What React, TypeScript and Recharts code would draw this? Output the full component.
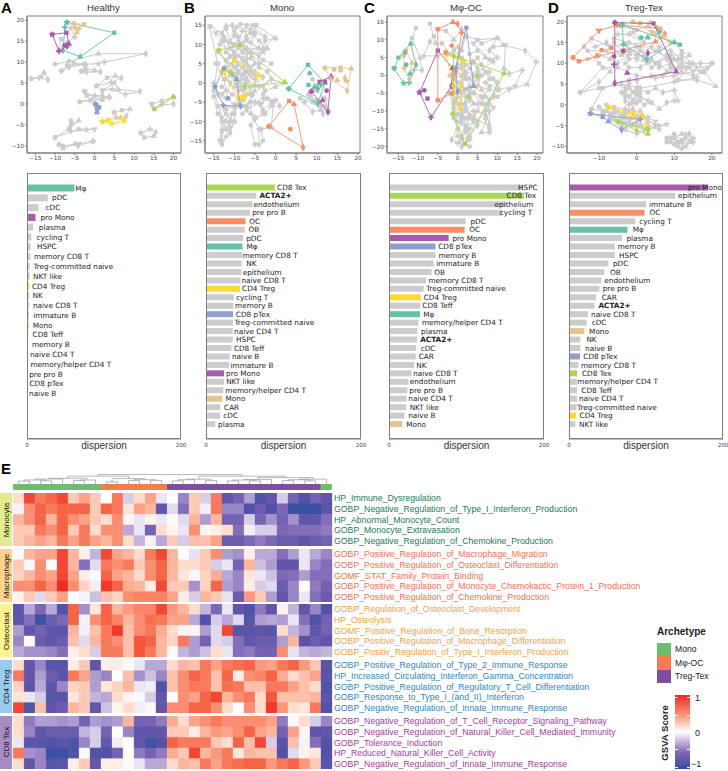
import React from 'react'
import {
  Bar,
  BarChart,
  Cell,
  LabelList,
  ReferenceArea,
  Scatter,
  ScatterChart,
  Symbols,
  XAxis,
  YAxis,
} from 'recharts'

const GREY = '#cccccc'
const SPINE = '#7f7f7f'
const TEAL = '#66c2a5'
const ORANGE = '#fc8d62'
const BLUE = '#8da0cb'
const PURPLE = '#a65ca8'
const GREEN = '#a6d854'
const YELLOW = '#ffd92f'
const TAN = '#e5c494'
const DEJAVU = 'DejaVu Sans'
const ARIAL = 'Liberation Sans'

type Pt = number[]
type Group = { color: string; ring: Pt[]; extra: Pt[] }

/* ---- panel A ---- */
const healthyGrey: Pt[][] = [
  [[-10, 9.5], [-6.5, 10.2], [1, 12], [13, 12], [2.5, 10], [1, 9.6], [-2.5, 9.5], [-7, 9.2]],
  [[-8.4, 7.9], [-5.3, 9.8], [-2.3, 9.5], [-6.5, 8.8], [-8.4, 7.9]],
  [[-3.3, 7.8], [-2.3, 8.5], [0, 8], [1.5, 7.7], [-2, 7.6], [-3.3, 7.8]],
  [[-16, 6], [-13.5, 6.5], [-12.8, 7.5], [-11.8, 5.8], [-14, 6.2], [-16, 6]],
  [[0.5, 4.3], [3.2, 6.3], [5.3, 6.7], [6.8, 6.2], [4.2, 5.2], [0.5, 4.3]],
  [[2, 3.2], [5, 5], [6, 3.5], [11.5, 3], [7.8, 2.3], [4.5, 3.5], [2, 3.2]],
  [[-2.5, 3], [-2, 2], [0, 2], [2, 2], [3.8, 1.5], [0, 1.8], [-2.5, 3]],
  [[-3.7, 0.5], [-1, 1], [2, 1], [3.7, 1.7], [-1, 0.8], [-3.7, 0.5]],
  [[5, -2], [7, -1.5], [9, -1.2], [8, -3], [5.5, -3.2], [5, -2]],
  [[14.5, 0], [17, 0.7], [20, 1.7], [20, 0], [17, -0.2], [15, -1], [14.5, 0]],
  [[-10, -8], [-6.5, -6], [-4, -4], [-6, -5], [-6, -6.5], [-2, -6.2], [0, -6], [-4, -6], [-10, -8]],
  [[-6, -4], [-5.8, -4.7], [-6.5, -6]],
  [[-9, -9.7], [-8, -10.5], [-5, -9.6], [-4.2, -10], [-0.4, -8.8], [-0.4, -9], [-4, -9.5], [-8, -10], [-9, -9.7]],
  [[11.7, -6.9], [12.6, -8], [15, -7.7], [15.5, -6.8], [14, -6], [11.8, -7]],
  [[-6.5, 14], [-8.5, 15.5], [-9, 13], [-7, 14.5], [-5, 16], [-6, 18]],
]
const healthyGroups: Group[] = [
  { color: TEAL, ring: [[-7, 19.5], [5, 17], [-3.6, 11.3], [-8, 12.8], [-7.5, 18.3]], extra: [] },
  { color: TAN, ring: [[-5.3, 19.2], [-2.6, 19], [-4.5, 17], [-5, 18.3]], extra: [[-4, 18]] },
  { color: PURPLE, ring: [[-10.7, 16.6], [-7.1, 17], [-6.5, 14.4], [-7, 13.8], [-9, 12.6]], extra: [[-7.6, 14]] },
  { color: BLUE, ring: [[0.2, 0], [1.2, -0.8], [0.6, -2], [0.5, -1]], extra: [[0.5, -0.3], [0.7, -1.3]] },
  { color: YELLOW, ring: [[2, -4.2], [3.5, -3.8], [6.6, -3.3], [7.5, -4], [4.4, -4.7]], extra: [] },
  { color: GREEN, ring: [[20, 1.7], [15.2, -1.2]], extra: [] },
]

/* ---- panel B ---- */
const monoGrey: Pt[][] = [
  [[-15.8, 14.7], [-13, 13], [-12, 14.8], [-10.5, 15], [-9, 12], [-12, 11], [-14.5, 13]],
  [[-8.5, 15.3], [-5.5, 15], [-2.5, 12], [-5, 13.3], [-8, 13.5], [-9, 11]],
  [[-12.5, 12], [-11, 9], [-8, 10], [-5, 12.8], [-6, 10.5], [-3, 8], [-7, 7.5]],
  [[-4.7, 15], [-0.2, 11.7], [-3, 9], [-7, 9], [-10, 12.5]],
  [[-14, 8], [-12, 6], [-9, 7], [-6, 6.5], [-4, 5], [-8, 4], [-11, 5]],
  [[-13.5, 10], [-10, 8], [-7, 5], [-5, 2], [-7, 0], [-10, 2], [-12, 4]],
  [[-11, 3], [-8, 2], [-5, 3], [-3, 1.5], [-6, -1], [-9, 0.5]],
  [[-8, 6], [-6, 3], [-7, 1], [-5, -0.5], [-8, -2], [-10, -1], [-9, 3]],
  [[-15, -3.5], [-14, -8], [-12, -12], [-11, -10], [-12, -7], [-10, -5.5], [-13, -3]],
  [[-13, -16], [-13, -12.5], [-12, -10], [-11, -11.5], [-10.5, -8], [-13, -10], [-13.5, -15]],
  [[-10, -8], [-9, -5.5], [-7, -6], [-5.5, -3], [-8.5, -1], [-12, 1]],
  [[-5, -16], [-6, -11], [-5, -9], [-7, -7], [-4, -5], [-3, -8], [-5, -9.5]],
  [[-5, -9], [-2.5, -8], [-1, -6], [1, -6], [0, -4.5], [-2, -4], [-3.5, -5.5]],
  [[-3, -15], [-3.5, -12], [-1, -11.5], [-0.5, -5], [-3, -4]],
  [[-2.5, -2], [0, -1], [2, 0], [-1, 1], [-4, -1]],
  [[8, -3], [10, -4.5], [12, -6], [11.5, -8], [9.5, -5], [8.5, -3.5]],
  [[9, 1], [10, -2], [12, -4], [13, -7.5], [11, -6]],
  [[-14.5, 5], [-12.5, 1], [-12, -2], [-14, -3], [-15, 0]],
  [[-10, 13.5], [-11, 10.5], [-8.5, 10], [-7, 12], [-6, 14], [-9.5, 14.5]],
  [[-13, -1], [-10.5, -3], [-8, -4.5], [-10, -6.5], [-12.5, -6]],
  [[-1, 5], [-3, 6], [-6, 8], [-2.5, 11], [0, 11.5]],
  [[-16, 14.7], [-14, 5], [-15, -2], [-13, -9], [-13, -15]],
  [[-12, 14], [-10, 8], [-9, 3], [-9, -2], [-10, -10], [-12, -14]],
  [[-7, 15], [-8, 8], [-7.5, 3], [-6, -3], [-6, -8], [-4, -12], [-4, -16]],
  [[-13, 11], [-11, 7], [-13, 3], [-11, 0], [-12, -4]],
  [[-10, 10], [-7, 11], [-4, 9], [-7, 6], [-10, 4], [-8, 1], [-6, 2]],
  [[-9, 9], [-6, 8], [-5, 5], [-7, 3], [-9, 5], [-10, 7]],
  [[-12, 8], [-10, 6], [-11, 2], [-9, -1], [-7, -3], [-5, -2]],
  [[-4, 4], [-2, 3], [-1, 1], [-3, -1], [-5, 1], [-6, 4]],
  [[-6, 13], [-4, 11], [-2, 9], [-4, 7], [-7, 9]],
  [[-14, -6], [-12, -8], [-10, -10], [-11, -13], [-12, -12]],
  [[6, -4], [9, -5], [11, -7], [9, -7.5], [7, -5]],
  [[-3, -3], [-1, -5], [-3, -7], [-5, -5]],
  [[-8, -8], [-6, -5], [-8, -6]],
]
const monoGroups: Group[] = [
  { color: GREEN, ring: [[-13.7, 8.5], [-8.7, 9.8], [2.3, 0.2], [-7.5, -1], [-10.5, 2.5]], extra: [] },
  { color: YELLOW, ring: [[-12.5, 2.7], [-10, 5.8], [-4, 2], [-7.5, -4], [-9, -4]], extra: [[-8, -3.5]] },
  { color: BLUE, ring: [[-14.7, -1], [-12.5, 3.8], [-9.5, 1], [-8.5, -6], [-12.7, -5.8]], extra: [[-11.5, -4]] },
  { color: TEAL, ring: [[3.2, -1.5], [7.9, 4.7], [12, 0], [10.3, -5.3]], extra: [[8.3, 2.5], [8, -0.5], [9.5, -1], [10.3, -1.5], [11, -0.5]] },
  { color: PURPLE, ring: [[8.7, -2.2], [10.7, 0.3], [13.5, 1.7], [12.7, -7.5]], extra: [[12.4, -2], [12, 0.3], [11.4, -4.5]] },
  { color: TAN, ring: [[12, 3.9], [15.8, 4], [18.4, 3.7], [17.4, -2], [13.5, 1]], extra: [[14.2, 3.5], [15.8, 3.3], [15, 0.7], [16.8, 1.3], [17.2, 0.5]] },
  { color: ORANGE, ring: [[-1.6, -11.3], [3.3, -4.7], [4.5, -5.5], [6.7, -16.8]], extra: [[3.6, -12]] },
]

/* ---- panel C ---- */
const mphiGrey: Pt[][] = [
  [[-10.5, 13.3], [-11.5, 10.5], [-9.5, 5], [-9, 1.5], [-11, 1.5]],
  [[-7, 14.5], [-6, 11], [-5.5, 9], [-7, 9.5], [-8.5, 5.5], [-5, 5.5]],
  [[-5, 13], [-3, 12.5], [-1, 10], [1, 13], [2, 11], [1, 7]],
  [[2, 11], [5, 10], [10, 10.5], [8, 7], [10, 5], [8, 4.5], [4, 9]],
  [[6, 9], [10, 10.5], [11.5, 8.5], [17, 7], [19.8, 3.8], [17.5, -2.5], [13, -4], [10, -6], [8, -3]],
  [[9, 8], [12, 8.5], [11.7, 2], [13, 0.5], [16.3, 1.5], [14.5, -3], [10, -4]],
  [[0, 5], [2, 3], [3.5, 3.5], [5, 2], [8, 1], [4, -2]],
  [[-1, 2], [1, 0], [3, -1], [5, -3], [8, -4], [6, -6], [3, -4]],
  [[-1, -3], [1, -5], [1, -8], [3, -7], [5, -8], [7, -6], [9, -9]],
  [[0, -11], [3, -12], [5, -10], [7, -11], [8, -8], [8, -15]],
  [[-1, -5], [-1, -12], [0, -15], [-1.5, -18], [0, -19], [2, -19], [3, -15], [2, -12]],
  [[3, -20], [1, -18], [3, -17], [5, -14], [4, -10]],
  [[-1, -1], [1, -3], [-0.5, -7], [2, -9], [0, -6]],
  [[5, 5], [7, 1], [9, -1], [10.5, -4], [7, -2]],
  [[3, 6], [5, 7], [7, 5], [9, 4], [5, 1]],
  [[-1, 0], [2, -1], [1, 2], [4, 0], [0, -2]],
  [[4, -5], [6, -8], [4, -12], [8, -14], [6, -6]],
  [[-2, -5], [0, -13], [2, -15], [4, -13], [1, -11]],
  [[-1, 7], [1, 5], [2, 1], [1, -2], [2, -6], [1, -10], [2, -14], [1, -17]],
  [[0, 3], [2, 0], [3, -3], [2, -8], [3, -11], [2, -16]],
  [[-1, -8], [1, -12], [0, -17], [1, -20], [3, -18]],
  [[3, 2], [5, -1], [6, -4], [8, -7], [7, -10], [5, -13]],
  [[6, 3], [8, -1], [10, -2], [9, -6], [7, -8]],
  [[4, 4], [6, 0], [4, -5], [2, -4]],
  [[0, -8], [2, -10], [4, -8], [3, -5]],
  [[-2, 0], [0, -4], [-1, -9], [1, -13]],
  [[7, -12], [8, -16], [6, -16], [8, -10]],
  [[-4, 9], [-2, 6], [0, 8], [1, 3]],
]
const mphiGroups: Group[] = [
  { color: TEAL, ring: [[-16, 2], [-14.9, 5], [-11.8, 8.9], [-10.5, 3], [-12.2, -2], [-13.6, -2.2]], extra: [[-13, 3], [-13.3, 6.5], [-12, 0.5]] },
  { color: TAN, ring: [[-13.6, 5.7], [-13, 7], [-11.5, 3.5], [-12.2, -1], [-13.5, 2]], extra: [] },
  { color: PURPLE, ring: [[-9.6, -4.8], [-5, 7], [-1.3, 2], [-1.6, -3], [-6.7, -11.8]], extra: [[-8.4, -4.2], [-7.6, -6.5]] },
  { color: ORANGE, ring: [[-5, -7], [-5, 13], [-1.2, 15], [0, 14.5], [1, 12], [-0.5, 1], [-1.5, -5]], extra: [[-1.5, 8.4], [-3, 6.5]] },
  { color: BLUE, ring: [[-0.5, 2], [2.2, 13.4], [4, -3], [0, -4.5]], extra: [] },
  { color: YELLOW, ring: [[-3, 6], [1.5, 4], [1, -3], [0.5, -9], [-1, -3]], extra: [] },
  { color: GREEN, ring: [[-1.2, -10.8], [1.8, -19.3], [11.7, 0.6], [-1, 5.5]], extra: [[5, 0], [2.8, -6]] },
]

/* ---- panel D ---- */
const tregGrey: Pt[][] = [
  [[-12, 16], [-7, 14], [-3, 14.5], [2, 15], [-2, 17], [-5, 17]],
  [[-13, 13], [-8, 13], [-4, 12], [-8, 15], [-11, 14]],
  [[-4, 19], [0, 18], [3, 19], [5, 17], [1, 16], [-1, 17.5]],
  [[-6, 15], [-2, 11], [2, 12], [6, 13], [8, 11], [3, 10], [0, 11]],
  [[5, 13], [9, 11], [12, 10], [17, 10], [20, 10], [17, 8], [13, 9], [9, 9]],
  [[20, 10], [18, 8], [21, 4.5], [16, 6], [11, 6], [14, 9]],
  [[-15, 3], [-10, 4], [-4, 5], [1, 4], [10, 5.5], [16, 6.5]],
  [[-15, 3], [-9, 9], [-5, 9], [0, 7], [5, 6.5], [10, 7], [15, 8]],
  [[-14, 14], [-10, 10], [-7, 8], [-10, 5.5], [-15, 3]],
  [[-12, -1], [-9, 4], [-6, 5], [-3, 4], [0, 2.5], [3, 1]],
  [[-2, 6], [-3, 3], [-1, 1], [1, 3], [0, 6], [1, 1], [-2, 2]],
  [[0, 4], [3, 3], [5, 4], [7, 3], [10, 3.5], [11, 1]],
  [[2, 0], [4, 0.5], [6, -1], [8, 0.5], [10, 1]],
  [[-12, -1], [-9, -1.5], [-6, -2], [-3, -3], [0, -3], [2, -3], [5, -5], [3, -6]],
  [[-10, -0.5], [-7, -2], [-4, -2.5], [-2, -1.5], [-4, -4], [-7, -3.5]],
  [[-4, -4.5], [-2, -4], [1, -5], [3, -4], [6, -5], [8, -4.7], [3, -6]],
  [[-8, -1.5], [-6, -0.5], [-3, -1], [-1, -2], [-2, -3.5], [-6, -3]],
  [[8, -8], [10, -8], [12, -7], [14, -7], [15, -8], [13, -10], [11, -9], [9, -9]],
  [[10, -7], [12, -8.5], [14, -9], [15, -8.5], [12, -10.5]],
  [[10, 15], [12, 13], [14, 12], [12, 11], [9, 13], [6, 14]],
  [[4, 9], [6, 10], [8, 8], [11, 9], [7, 7], [4, 7]],
  [[-2, 13], [1, 13], [4, 11], [1, 9], [-2, 9], [-3, 10]],
  [[-8, 0], [-5, -1.5], [-3, -2], [-1, -1], [1, -3], [3, -3], [5, -4]],
  [[-9, -2], [-6, -3.5], [-3, -4.5], [0, -4.5], [3, -5], [6, -6]],
  [[-7, -3], [-4, -5.5], [-1, -5], [2, -6], [0, -7], [-3, -6]],
  [[-6, -1], [-4, -3], [-1, -3], [1, -1.5], [-3, -1.5]],
  [[-2, 4], [0, 3], [-1, 0.5], [-3, 1], [-4, 3], [-2, 5]],
  [[-3, 2], [-1, 3], [1, 2], [0, 0.5], [-2, 0]],
  [[2, 11], [5, 10], [8, 12], [11, 11], [14, 10], [16, 9], [19, 9]],
  [[6, 9], [9, 10], [12, 8], [15, 7], [18, 8]],
  [[9, 12], [12, 12], [15, 10], [12, 9], [10, 11]],
  [[-13, 11], [-10, 12], [-7, 11], [-5, 10], [-2, 12], [0, 14]],
  [[-6, 16], [-2, 15], [1, 14], [4, 14], [0, 12], [-3, 13]],
  [[10, -8], [12, -9], [11, -10], [13, -8], [15, -9], [13, -7]],
  [[8, -9], [10, -9.5], [12, -9], [9, -8]],
]
const tregGroups: Group[] = [
  { color: ORANGE, ring: [[-16.9, 11.4], [-15.3, 10.5], [5, 15.2], [7.5, 17], [5.5, 18.5], [-5, 19.2], [-10, 17.9]], extra: [[-9.3, 13.2], [-6.7, 13.7], [-10.6, 11.8], [-3.5, 12.9]] },
  { color: TAN, ring: [[-1, 20], [1, 19.7], [3.6, 19.8], [6.5, 18.2], [9, 15], [7, 16.5], [4, 17.5]], extra: [] },
  { color: TEAL, ring: [[-3.8, 19.3], [11.5, 14.5], [10, 15.1], [2.7, 10.9], [-3.5, 14.6]], extra: [[1.2, 16.2], [6, 17.6], [3, 16.2]] },
  { color: PURPLE, ring: [[-5.8, 19.8], [4.5, 19.6], [10.5, 8], [-5.8, 5.2]], extra: [[-6, 11.7], [-3.6, 13], [-2.5, 7.7], [3, 12.5], [-6, 9.7]] },
  { color: YELLOW, ring: [[-7.5, -0.5], [-1, -2], [1.5, -2.5], [3, -5.5], [-1, -3]], extra: [] },
  { color: BLUE, ring: [[-12.3, -2.1], [-9, -2.9], [-7.5, -4], [-4, -6], [1, -3.5]], extra: [] },
  { color: GREEN, ring: [[-5, -4], [3, -5.8], [3, -7], [0, -6.2]], extra: [] },
]

/* ---- dispersion bars ---- */
const healthyNames = ['Mφ', 'pDC', 'cDC', 'pro Mono', 'plasma', 'cycling T', 'HSPC', 'memory CD8 T', 'Treg-committed naive', 'NKT like', 'CD4 Treg', 'NK', 'naive CD8 T', 'immature B', 'Mono', 'CD8 Teff', 'memory B', 'naive CD4 T', 'memory/helper CD4 T', 'pre pro B', 'CD8 pTex', 'naive B']
const healthyValues = [61.5, 27, 15, 11, 8, 5.6, 4.8, 4.3, 3.5, 3.5, 3, 3, 2.6, 2.6, 2.2, 1.7, 1.3, 1.3, 1, 0.6, 0.6, 0.3]
const healthyGaps = [1, 4.3, 7, 5, 5.7, 5.3, 6.3, 3.7, 3.7, 3.3, 2.7, 3.3, 4, 4.3, 4, 4.3, 4, 2, 2.7, 1.7, 2, 1.8]

const monoNames = ['CD8 Tex', 'ACTA2+', 'endothelium', 'pre pro B', 'OC', 'OB', 'pDC', 'Mφ', 'memory CD8 T', 'NK', 'epithelium', 'naive CD8 T', 'CD4 Treg', 'cycling T', 'memory B', 'CD8 pTex', 'Treg-committed naive', 'naive CD4 T', 'HSPC', 'CD8 Teff', 'naive B', 'immature B', 'pro Mono', 'NKT like', 'memory/helper CD4 T', 'Mono', 'CAR', 'cDC', 'plasma']
const monoValues = [88.8, 65, 60, 57, 51, 50, 48, 47, 47, 46, 45.7, 44.4, 44, 36, 35.3, 35, 35, 34.5, 34.5, 33, 30.6, 30, 23.3, 23, 22.4, 21, 18.5, 18, 12]
const monoGaps = [2.3, 3, 1, 2, 3.7, 3.7, 3, 4, 0.3, 4.7, 1.3, 1, 2, 2, 1.7, 2.7, 1.3, 1.3, 3.3, 2.3, 2.3, 1.3, 2, 2.3, 2, 3.3, 3.7, 3.3, 2.7]

const mphiNames = ['HSPC', 'CD8 Tex', 'epithelium', 'cycling T', 'pDC', 'OC', 'pro Mono', 'CD8 pTex', 'memory B', 'immature B', 'OB', 'memory CD8 T', 'Treg-committed naive', 'CD4 Treg', 'CD8 Teff', 'Mφ', 'memory/helper CD4 T', 'plasma', 'ACTA2+', 'cDC', 'CAR', 'NK', 'naive CD8 T', 'endothelium', 'pre pro B', 'naive CD4 T', 'NKT like', 'naive B', 'Mono']
const mphiValues = [173, 174, 150, 146, 99, 97.6, 77, 60, 60, 57.6, 55, 48, 44.7, 41, 40.4, 40, 37.8, 36.6, 36, 34.8, 34.4, 32.7, 29, 25, 23.7, 22.8, 22.4, 20, 17]
const mphiGaps = [-5, -17.3, -10.7, -2.3, 4.7, 4.7, 3.7, 2.7, 3, 2.7, 2.7, 2.3, 2.3, 3, 2, 3.3, 3.7, 3.7, 3.3, 4.7, 3, 2, 1.7, 1.3, 2, 1.7, 3.3, 3.7, 4]

const tregNames = ['pro Mono', 'epithelium', 'immature B', 'OC', 'cycling T', 'Mφ', 'plasma', 'memory B', 'HSPC', 'pDC', 'OB', 'endothelium', 'pre pro B', 'CAR', 'ACTA2+', 'naive CD8 T', 'cDC', 'Mono', 'NK', 'naive B', 'CD8 pTex', 'memory CD8 T', 'CD8 Tex', 'memory/helper CD4 T', 'CD8 Teff', 'naive CD4 T', 'Treg-committed naive', 'CD4 Treg', 'NKT like']
const tregValues = [180, 138, 100, 98, 86, 76, 69, 59.4, 59.4, 51, 46, 42, 39.5, 35, 33, 24.7, 23, 20, 14.8, 14.8, 14.3, 12, 10.4, 10.4, 10.4, 10.4, 10, 9.5, 8.2]
const tregGaps = [-19.7, 2.7, 3, 5, 4, 5.3, 4.3, 3, 4.3, 4.7, 5.7, 3, 3.3, 5.7, 4, 3, 5, 4.7, 6, 4.7, 3.3, 2.7, 5, 0.3, 4.3, 2, 0.3, 3.3, 3.7]

const barColors: Record<string, string> = {
  'Mφ': TEAL, OC: ORANGE, 'pro Mono': PURPLE, 'CD8 pTex': BLUE, 'CD8 Tex': GREEN, 'CD4 Treg': YELLOW, Mono: TAN,
}

/* ---- heatmap, GSVA score x10 ---- */
const monocyteTerms = ['HP_Immune_Dysregulation', 'GOBP_Negative_Regulation_of_Type_I_Interferon_Production', 'HP_Abnormal_Monocyte_Count', 'GOBP_Monocyte_Extravasation', 'GOBP_Negative_Regulation_of_Chemokine_Production']
const monocyteScores = [
  [2, 9, 7, 8, 9, 3, 5, 3, 0, 7, -2, 2, 5, -1, 0, -5, 3, -2, 7, -8, -7, -4, -9, -8, -2, -7, -9, -7, -8],
  [-0.5, 6, 8, 7, 8, 8, 8, 3, 8, 7, 1.5, 5, 4, -8, -1.5, -6, 3, -0.7, 7, -5, -5, -9, -7.5, -9, -6.5, -10, -10, -10, -8.5],
  [4, 6, 8, 4, 8, 6, 5, 3, 2, 6, 0.5, -1, 0.7, -1, 0.3, -1.5, 4, -4, 4, -7, -7, -2, -7, -4.5, -7, -4.5, -8, -8, -6],
  [3, 3, 7, 6, 8, 3, 7, 2, 6, 6, -3.5, -1, -7, 2, 0.5, -1, 6, 0.5, 1, 2, -6, -0.7, -2, -2, -6.5, -6, -6, -6, -5.5],
  [3, 4, 5, 4, 7, 5, 7, 5, 4, 6, 2, -3, -0.5, -3.5, 3, -2, 3.5, 3.5, 5, -7.5, -7.5, -6.5, -5.5, -6.5, -7.5, -7.5, -8, -7.5, -7],
]
const macrophageTerms = ['GOBP_Positive_Regulation_of_Macrophage_Migration', 'GOBP_Positive_Regulation_of_Osteoclast_Differentiation', 'GOMF_STAT_Family_Protein_Binding', 'GOBP_Positive_Regulation_of_Monocyte_Chemokactic_Protein_1_Production', 'GOBP_Positive_Regulation_of_Chemokine_Production']
const macrophageScores = [
  [0, 4, 5, 5, 9, 4, 1, -3, 9, 5, 4, 2, 7, 9, 4, 0, -1.2, 3, 6, -4, -4.5, 1, -3.5, -3.5, -6, -4, -1, -3.5, -5],
  [3, -0.3, 6, -0.1, 9, 4, -6, -1.5, 7, 6, 7, 3, 6, 8, 4, 2, 2, 3, -2, -1, -7, 4, -2.5, -4, -8, -8, -1, -5, -6],
  [2.5, 4, 6, 5, 9, 5, 1, -0.3, 8, 5, 4, 2, 6, 8, 4, 1.5, -0.3, 2.5, 4.5, -3.5, -5, 1.5, -1, -2.5, -6.5, -6, -4, -6, -6],
  [6, 6, 8, 6, 10, 6, 2.5, -0.7, 9.5, 8, 4.5, 4, 1, 9, 3, 3, -4.5, 2.5, 8, -4, -5, 1, -2, -1.5, -7.5, -5, 0.2, -5.5, -7],
  [0.7, 3, -1.5, 3, 5, 0, -0.5, -2.5, 3.5, 2.5, 6, 6.5, 6.5, 6.5, 5, 1, -2, 4, 3, -1.2, -7.5, 5.5, 3, -4, -8, -5, -1, -6, -7.5],
]
const osteoclastTerms = ['GOBP_Regulation_of_Osteoclast_Development', 'HP_Osteolysis', 'GOMF_Positive_Regulation_of_Bone_Resorption', 'GOBP_Positive_Regulation_of_Macrophage_Differentiation', 'GOBP_Positiv_Regulation_of_Type_I_Interferon_Production']
const osteoclastScores = [
  [-8.5, -3.5, -6.5, -3.5, -9, 8, -4.5, 1.5, 8, 4, 5.5, 6.5, 6.5, 9, 5.5, 4, 2, -3, -6.5, -1, -8, -9, -5.5, -8, 0.8, -3, -8, -5, -9],
  [-8, -6, -10, -7.5, -6.5, 8, -0.5, 6, 8, 6.5, 4, 6, 7.5, 7, 5, 5, -3.5, -9, -2, -3.5, -1.5, -8.5, -4, -3.5, -4, -1, -6, -9, -7],
  [-4, -8, -7, -8, -8.5, 4, -0.7, 3.5, 7, 9.5, 3.5, 6, 7, 4.5, 2, -0.5, 0.5, -4, -1.5, 9, -8.5, -8.5, -8, -8.5, 2, -3, -4.5, -8, -7],
  [-5, -0.1, -7.5, -8, -7.5, 3.5, -1.5, 4, 7, 6, 3.5, 8.5, 8, 4, 2.5, 7, -4, -7, -1.5, -2, -6, -8, -7.5, -7.5, -4, 4, -8.5, -7.5, -8],
  [-3.5, -4.5, -4.5, -5, -6, 1, 2, -2, 7, 7, 3.5, 8.5, 7, 4, 0.3, -3, -4, -2.5, 2, -1, -6, -5.5, -7, -7, 6, -1.2, -3, -3.5, -3],
]
const cd4Terms = ['GOBP_Positive_Regulation_of_Type_2_Immune_Response', 'HP_Increased_Circulating_Interferon_Gamma_Concentration', 'GOBP_Positive_Regulation_of_Regulatory_T_Cell_Differentiation', 'GOBP_Response_to_Type_I_(and_II)_Interferon', 'GOBP_Negative_Regulation_of_Innate_Immune_Response']
const cd4Scores = [
  [2, -8, -5, -8.5, -8.5, 1, 3, -8, 1, 1, -0.2, -1, -3.5, -3.5, 2, 4, 3.5, 7, 5, 7, 7.5, 8, 5.5, 5, 7, 8, 5.5, 3, -8.5],
  [7, -8, -4, -7.5, -8.5, 7, 5, -4, -5, 0, 3.5, -4.5, -2.5, -5, 3.5, 6, 8, 7, 3.5, 8, 1, 6, 6.5, 8, 4.5, 2, 3.5, 5, -8.5],
  [2.5, -8.5, -3.5, -8, -5, 2.5, 3, -4, 1.5, 2.5, 4, -1, -0.7, -9, 3.5, 6, 7, 7, 3.5, 7.5, 7, 3.5, 3.5, 7, 7, 5, 3.5, 2, -9],
  [1.5, -1, -2, -8.5, -8.5, 1.5, 3, -3, -3.5, 2, 0.7, -0.3, -2, -8, 0, 6, 5, 8, 9, 4, 6, 7, 2, 8.5, 3.5, 3.5, 3.5, 4, -8.5],
  [9, -9, 3.5, -8, -7.5, 4, 3, -8, -2.5, 0.7, 2, -0.7, 0.5, -8, 6, 6, 8, 8, 6, 2, 0, 6, 2, 9.5, 5.5, 2, 1.5, 7, -9],
]
const cd8Terms = ['GOBP_Negative_Regulation_of_T_Cell_Receptor_Signaling_Pathway', 'GOBP_Negative_Regulation_of_Natural_Killer_Cell_Mediated_Immunity', 'GOBP_Tolerance_Induction', 'HP_Reduced_Natural_Killer_Cell_Activity', 'GOBP_Negative_Regulation_of_Innate_Immune_Response']
const cd8Scores = [
  [2, -5.5, -4, -4, -4.5, -4, -7, -4, -4.5, -4, 4, -7, -7, -5.5, 4.5, 2, 5, 6, 7, 6, 6, 6, 6, 5, -5.5, -0.3, 2, -2, -5],
  [2, -5, -8, -7.5, -7.5, -7.5, -3, -2, -7, 0, -5, -8, -8, -8, 3, 3, 1, 4, 5.5, 5, 6, 8, 5, 4, -7, 5, 0.5, -8, -8],
  [-1, -8.5, -8.5, -9, -8.5, -9, -5, -2, -8, -0.7, 0.2, -8, -9.5, -9, 8, 7, 7, 7, 3, 2, 8, 3.5, 9, -2, -8.5, 3.5, -0.5, -6, -9],
  [7, -4.5, -5, -10, -10, -9, -0.3, -9, -9, -7, 0.2, -5.5, -7, -5.5, 4.5, 3, 9, 4, 5.5, 7, 1.5, 4, 3.5, 3.5, -9, -1.5, 0.8, 1.5, -9],
  [2, -8, -5, -8.5, -8.5, 1, 3, -8, 1, 1, -0.2, -1, -3.5, -3.5, 2, 4, 3.5, 7, 5, 7, 7.5, 8, 8, 5.5, 7, 8, 5.5, 3, -8.5],
]

/* archetype strip runs over the 29 columns */
const archetypeRuns = [8, 6, 14, 1]
const archetypeColors = ['#6dbe6a', '#f47c4e', '#7d4f9e', '#6dbe6a']
/* dendrogram merges: left x, right x, join height, left foot, right foot (column units) */
const merges = [
  [0.5, 1.5, 2, 0, 0], [2.5, 3.5, 2.2, 0, 0], [1, 3, 2.8, 2, 2.2], [2, 4.5, 3.5, 2.8, 0],
  [5.5, 6.5, 2.5, 0, 0], [6, 7.5, 2.8, 2.5, 0], [3.25, 6.75, 4, 3.5, 2.8],
  [8.5, 9.5, 1.5, 0, 0], [10.5, 11.5, 2.5, 0, 0], [12.5, 13.5, 2.5, 0, 0], [11, 13, 3, 2.5, 2.5], [9, 12, 3.8, 1.5, 3],
  [5, 10.5, 5.5, 4, 3.8],
  [14.5, 15.5, 2.2, 0, 0], [15, 16.5, 3, 2.2, 0], [17.5, 18.5, 2.5, 0, 0], [15.75, 18, 3.4, 3, 2.5],
  [19.5, 20.5, 2.2, 0, 0], [21.5, 22.5, 2.2, 0, 0], [20, 22, 2.8, 2.2, 2.2], [21, 23.5, 3.2, 2.8, 0],
  [24.5, 25.5, 2.4, 0, 0], [26.5, 27.5, 2.2, 0, 0], [25, 27, 3, 2.4, 2.2], [26, 28.5, 3.4, 3, 0],
  [22.25, 27.25, 4.5, 3.2, 3.4], [16.9, 24.75, 5.5, 3.4, 4.5], [7.75, 20.8, 6.6, 5.5, 5.5],
]

const COLS = 29
const MARKS = ['circle', 'square', 'triangle', 'diamond', 'cross', 'star', 'wye'] as const

function scoreColor(v: number) {
  const stops: [number, number[]][] = [
    [-10, [62, 80, 162]], [-8, [98, 86, 170]], [-6, [133, 110, 185]], [-3, [195, 180, 220]], [0, [255, 255, 255]],
    [2, [255, 220, 206]], [4, [252, 182, 158]], [6, [250, 142, 114]], [8, [246, 100, 70]], [10, [238, 42, 36]],
  ]
  for (let i = 1; i < stops.length; i++) {
    if (v <= stops[i][0]) {
      const [a, ca] = stops[i - 1]
      const [b, cb] = stops[i]
      const t = (v - a) / (b - a)
      return `rgb(${ca.map((c, k) => Math.round(c + (cb[k] - c) * t)).join(',')})`
    }
  }
  return 'rgb(238,42,36)'
}

const Marker = ({ cx, cy, payload, color }: any) => (
  <Symbols cx={cx} cy={cy} type={MARKS[payload.m % MARKS.length]} size={18} fill={color} />
)

function toRows(points: Pt[]) {
  return points.map(([x, y], m) => ({ x, y, m }))
}

function ScatterPanel(props: {
  left: number
  width: number
  xDomain: number[]
  yDomain: number[]
  xTicks: number[]
  yTicks: number[]
  grey: Pt[][]
  groups: Group[]
}) {
  const { left, width, xDomain, yDomain, xTicks, yTicks, grey, groups } = props
  const tick = { fill: '#444', fontSize: 5.8, fontFamily: DEJAVU }
  const minus = (v: number) => String(v).replace('-', '−')
  return (
    <div style={{ position: 'absolute', left: left - 24, top: 12 }}>
      <ScatterChart width={width + 30} height={155} margin={{ top: 4, right: 6, bottom: 0, left: 0 }}>
        <XAxis type="number" dataKey="x" domain={xDomain} ticks={xTicks} tick={tick} tickFormatter={minus} height={14} tickSize={2} tickMargin={1} stroke={SPINE} allowDataOverflow interval={0} />
        <YAxis type="number" dataKey="y" domain={yDomain} ticks={yTicks} tick={tick} tickFormatter={minus} width={24} tickSize={2} tickMargin={1} stroke={SPINE} allowDataOverflow interval={0} />
        {grey.map((line, i) => (
          <Scatter key={i} data={toRows(line)} line={{ stroke: GREY, strokeWidth: 1 }} shape={(p: any) => <Marker {...p} color={GREY} />} isAnimationActive={false} />
        ))}
        {groups.map((g, i) => (
          <Scatter key={'ring' + i} data={toRows([...g.ring, g.ring[0]])} line={{ stroke: g.color, strokeWidth: 0.9 }} shape={(p: any) => <Marker {...p} color={g.color} />} isAnimationActive={false} />
        ))}
        {groups.map((g, i) => (
          <Scatter key={'extra' + i} data={toRows(g.extra)} shape={(p: any) => <Marker {...p} color={g.color} />} isAnimationActive={false} />
        ))}
        <ReferenceArea x1={xDomain[0]} x2={xDomain[1]} y1={yDomain[0]} y2={yDomain[1]} fill="none" stroke={SPINE} strokeWidth={1} ifOverflow="visible" />
      </ScatterChart>
    </div>
  )
}

function BarPanel({ left, width, names, values, gaps, padBottom }: { left: number; width: number; names: string[]; values: number[]; gaps: number[]; padBottom: number }) {
  const data = names.map((name, i) => ({ name, value: values[i] }))
  const renderLabel = ({ x, y, width: w, height: h, index, value }: any) => (
    <text x={x + w + gaps[index]} y={y + h / 2} dy="0.36em" fontSize={7.3} fontFamily={DEJAVU} fill="#222" fontWeight={value === 'ACTA2+' ? 700 : 400}>
      {value}
    </text>
  )
  return (
    <>
      <div style={{ position: 'absolute', left: left - 6, top: 172 }}>
        <BarChart layout="vertical" width={width + 18} height={282} data={data} margin={{ top: 1, right: 12, bottom: 0, left: 6 }} barCategoryGap="12%">
          <XAxis type="number" dataKey="value" domain={[0, 200]} ticks={[0, 200]} interval={0} height={15} tick={{ fill: '#444', fontSize: 5.6, fontFamily: DEJAVU }} tickSize={0} tickMargin={4} stroke={SPINE}
            label={{ value: 'dispersion', position: 'insideBottom', offset: 5, fontSize: 10, fontFamily: ARIAL, fill: '#333' }} />
          <YAxis type="category" dataKey="name" width={0} hide padding={{ top: 10.4, bottom: padBottom }} />
          <Bar dataKey="value" isAnimationActive={false}>
            {data.map((d) => (
              <Cell key={d.name} fill={barColors[d.name] ?? GREY} />
            ))}
            <LabelList dataKey="name" content={renderLabel} />
          </Bar>
        </BarChart>
      </div>
      <div style={{ position: 'absolute', left, top: 173, width, height: 266, boxSizing: 'border-box', border: `1px solid ${SPINE}`, pointerEvents: 'none' }} />
    </>
  )
}

function HeatBlock({ top, terms, scores, color, band, title }: { top: number; terms: string[]; scores: number[][]; color: string; band: string; title: string }) {
  const data = terms.map((name, r) => {
    const row: Record<string, string | number> = { name, key: r }
    for (let c = 0; c < COLS; c++) row['c' + c] = 1
    return row
  })
  const height = 53.2
  return (
    <>
      <div style={{ position: 'absolute', left: 0, top, width: 11.5, height, background: band }}>
        <div style={{ position: 'absolute', left: 5.75, top: height / 2, transform: 'translate(-50%,-50%) rotate(-90deg)', fontFamily: ARIAL, fontSize: 8, color: '#111', whiteSpace: 'nowrap' }}>{title}</div>
      </div>
      <div style={{ position: 'absolute', left: 13, top }}>
        <BarChart layout="vertical" width={639} height={height} data={data} margin={{ top: 0, right: 0, bottom: 0, left: 0 }} barCategoryGap={0}>
          <XAxis type="number" hide domain={[0, COLS]} />
          <YAxis type="category" dataKey="name" orientation="right" width={320} interval={0} tickLine={false} axisLine={false} tickSize={0} tickMargin={2}
            tick={{ fill: color, fontSize: 8.75, fontFamily: ARIAL, textAnchor: 'start' }} />
          {Array.from({ length: COLS }, (_, c) => (
            <Bar key={c} dataKey={'c' + c} stackId="heat" isAnimationActive={false}>
              {scores.map((row, r) => (
                <Cell key={r} fill={scoreColor(row[c])} stroke={scoreColor(row[c])} strokeWidth={0.3} />
              ))}
            </Bar>
          ))}
        </BarChart>
      </div>
    </>
  )
}

function Dendrogram() {
  return (
    <div style={{ position: 'absolute', left: 13, top: 474 }}>
      <ScatterChart width={319} height={10} margin={{ top: 0, right: 0, bottom: 0, left: 0 }}>
        <XAxis type="number" dataKey="x" hide domain={[0, COLS]} />
        <YAxis type="number" dataKey="y" hide domain={[0, 7]} />
        {merges.map(([a, b, h, fa, fb], i) => (
          <Scatter key={i} data={[{ x: a, y: fa }, { x: a, y: h }, { x: b, y: h }, { x: b, y: fb }]} line={{ stroke: '#8a8a8a', strokeWidth: 0.6 }} shape={() => <g />} isAnimationActive={false} />
        ))}
      </ScatterChart>
    </div>
  )
}

function ArchetypeStrip() {
  const row: Record<string, number | string> = { name: 'archetype' }
  archetypeRuns.forEach((n, i) => { row['a' + i] = n })
  return (
    <div style={{ position: 'absolute', left: 13, top: 483.7 }}>
      <BarChart layout="vertical" width={319} height={6.6} data={[row]} margin={{ top: 0, right: 0, bottom: 0, left: 0 }} barCategoryGap={0}>
        <XAxis type="number" hide domain={[0, COLS]} />
        <YAxis type="category" dataKey="name" hide />
        {archetypeRuns.map((_, i) => (
          <Bar key={i} dataKey={'a' + i} stackId="s" fill={archetypeColors[i]} isAnimationActive={false} />
        ))}
      </BarChart>
    </div>
  )
}

const label = (left: number, top: number, text: string, style: React.CSSProperties = {}) => (
  <div style={{ position: 'absolute', left, top, fontFamily: ARIAL, whiteSpace: 'nowrap', lineHeight: 1, ...style }}>{text}</div>
)

const barTicks = [697, 715, 732, 749, 767]

export default function App() {
  return (
    <div style={{ position: 'absolute', left: 0, top: 0, width: 728, height: 771, background: '#fff', overflow: 'hidden' }}>
      {label(1, 0, 'A', { fontSize: 15, fontWeight: 700 })}
      {label(184, 0, 'B', { fontSize: 15, fontWeight: 700 })}
      {label(364, 0, 'C', { fontSize: 15, fontWeight: 700 })}
      {label(548, 0, 'D', { fontSize: 15, fontWeight: 700 })}
      {label(1, 461, 'E', { fontSize: 15, fontWeight: 700 })}
      {label(87, 3, 'Healthy', { fontSize: 9.7, color: '#333' })}
      {label(270, 3, 'Mono', { fontSize: 9.7, color: '#333' })}
      {label(450, 3, 'Mφ-OC', { fontSize: 9.7, color: '#333' })}
      {label(625, 3, 'Treg-Tex', { fontSize: 9.7, color: '#333' })}

      <ScatterPanel left={26.6} width={154} xDomain={[-17.1, 21.9]} yDomain={[-11.7, 21]} xTicks={[-15, -10, -5, 0, 5, 10, 15, 20]} yTicks={[-10, -5, 0, 5, 10, 15, 20]} grey={healthyGrey} groups={healthyGroups} />
      <ScatterPanel left={204.7} width={155} xDomain={[-17.1, 20.5]} yDomain={[-18.2, 17.4]} xTicks={[-15, -10, -5, 0, 5, 10, 15, 20]} yTicks={[-15, -10, -5, 0, 5, 10, 15]} grey={monoGrey} groups={monoGroups} />
      <ScatterPanel left={387.3} width={156} xDomain={[-17.8, 21.5]} yDomain={[-21.8, 16.7]} xTicks={[-15, -10, -5, 0, 5, 10, 15, 20]} yTicks={[-20, -15, -10, -5, 0, 5, 10, 15]} grey={mphiGrey} groups={mphiGroups} />
      <ScatterPanel left={567.3} width={155} xDomain={[-18.5, 22.7]} yDomain={[-11.6, 21.4]} xTicks={[-10, 0, 10, 20]} yTicks={[-10, -5, 0, 5, 10, 15, 20]} grey={tregGrey} groups={tregGroups} />

      <BarPanel left={26.5} width={154} names={healthyNames} values={healthyValues} gaps={healthyGaps} padBottom={40.4} />
      <BarPanel left={205.5} width={155} names={monoNames} values={monoValues} gaps={monoGaps} padBottom={10.5} />
      <BarPanel left={389.3} width={155} names={mphiNames} values={mphiValues} gaps={mphiGaps} padBottom={10.5} />
      <BarPanel left={568.7} width={154} names={tregNames} values={tregValues} gaps={tregGaps} padBottom={10.5} />

      <Dendrogram />
      <ArchetypeStrip />
      <HeatBlock top={493} terms={monocyteTerms} scores={monocyteScores} color="#1a7b55" band="#e3ea8f" title="Monocyte" />
      <HeatBlock top={549.3} terms={macrophageTerms} scores={macrophageScores} color="#f4724e" band="#fbd38d" title="Macrophage" />
      <HeatBlock top={604} terms={osteoclastTerms} scores={osteoclastScores} color="#f9a13a" band="#faf38f" title="Osteoclast" />
      <HeatBlock top={660} terms={cd4Terms} scores={cd4Scores} color="#2e86c8" band="#9acbef" title="CD4 Treg" />
      <HeatBlock top={715.5} terms={cd8Terms} scores={cd8Scores} color="#a43c9e" band="#a78cc4" title="CD8 Tex" />

      {label(657, 627, 'Archetype', { fontSize: 10, fontWeight: 700, color: '#222' })}
      {[['Mono', '#6dbe6a'], ['Mφ-OC', '#f47c4e'], ['Treg-Tex', '#7d4f9e']].map(([name, color], i) => (
        <React.Fragment key={name}>
          <div style={{ position: 'absolute', left: 657.3, top: 642.7 + i * 13.5, width: 13.4, height: 13.5, background: color }} />
          {label(675, 645 + i * 13.5, name, { fontSize: 8.6, color: '#222' })}
        </React.Fragment>
      ))}
      <div style={{ position: 'absolute', left: 675, top: 695, width: 14.5, height: 74, background: 'linear-gradient(to bottom,#ee2a24,#f98b6e 25%,#fff 50%,#bdaad8 65%,#7d64b2 78%,#3a4ca0)' }} />
      {barTicks.map((y) => (
        <React.Fragment key={y}>
          <div style={{ position: 'absolute', left: 675, top: y, width: 3, height: 0.7, background: '#fff' }} />
          <div style={{ position: 'absolute', left: 686.5, top: y, width: 3, height: 0.7, background: '#fff' }} />
        </React.Fragment>
      ))}
      {label(695, 694, '1', { fontSize: 9, color: '#222' })}
      {label(695, 729, '0', { fontSize: 9, color: '#222' })}
      {label(691, 760, '−1', { fontSize: 9, color: '#222' })}
      <div style={{ position: 'absolute', left: 664, top: 733, transform: 'translate(-50%,-50%) rotate(-90deg)', fontFamily: ARIAL, fontSize: 9.6, fontWeight: 700, whiteSpace: 'nowrap', color: '#222' }}>GSVA Score</div>
    </div>
  )
}
